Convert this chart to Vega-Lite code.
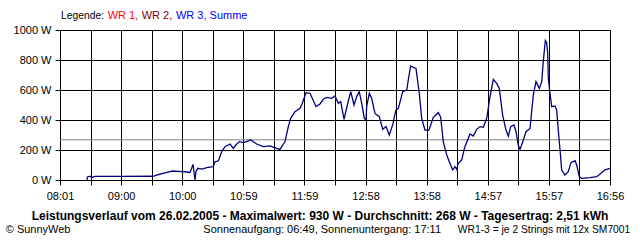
{
  "$schema": "https://vega.github.io/schema/vega-lite/v6.json",
  "autosize": "none",
  "width": 550,
  "height": 150,
  "padding": {"left": 60, "top": 30, "right": 30, "bottom": 60},
  "background": "white",
  "config": {
    "view": {"stroke": null},
    "font": "Liberation Sans",
    "axis": {
      "grid": true, "gridColor": "#000000", "gridOpacity": 1, "gridWidth": 1,
      "tickColor": "#000000", "tickWidth": 1, "domain": false,
      "labelFont": "Liberation Sans", "labelFontSize": 11, "labelColor": "#000000",
      "title": null
    }
  },
  "datasets": {
    "summe": [
      {"t": 507.3, "w": 0}, {"t": 507.7, "w": 20}, {"t": 510.2, "w": 25}, {"t": 512.1, "w": 17},
      {"t": 515.0, "w": 24}, {"t": 539.4, "w": 24}, {"t": 571.5, "w": 25}, {"t": 576.3, "w": 35},
      {"t": 581.2, "w": 44}, {"t": 586.1, "w": 52}, {"t": 590.9, "w": 60}, {"t": 595.8, "w": 58},
      {"t": 602.6, "w": 55}, {"t": 607.5, "w": 50}, {"t": 610.4, "w": 104}, {"t": 611.3, "w": 55},
      {"t": 612.3, "w": 0}, {"t": 613.3, "w": 60}, {"t": 615.2, "w": 78}, {"t": 619.1, "w": 72},
      {"t": 623.7, "w": 82}, {"t": 630.1, "w": 89}, {"t": 631.8, "w": 122}, {"t": 635.0, "w": 127},
      {"t": 636.6, "w": 156}, {"t": 638.3, "w": 189}, {"t": 641.5, "w": 222}, {"t": 646.4, "w": 240},
      {"t": 649.6, "w": 211}, {"t": 652.2, "w": 235}, {"t": 655.4, "w": 256}, {"t": 659.3, "w": 249},
      {"t": 662.9, "w": 258}, {"t": 666.5, "w": 267}, {"t": 672.3, "w": 240}, {"t": 678.8, "w": 222},
      {"t": 685.3, "w": 227}, {"t": 691.8, "w": 211}, {"t": 695.0, "w": 204}, {"t": 699.9, "w": 256},
      {"t": 703.1, "w": 356}, {"t": 705.4, "w": 411}, {"t": 709.6, "w": 456}, {"t": 714.5, "w": 478},
      {"t": 716.1, "w": 500}, {"t": 720.3, "w": 582}, {"t": 724.2, "w": 578}, {"t": 726.8, "w": 538},
      {"t": 730.0, "w": 489}, {"t": 733.9, "w": 507}, {"t": 737.1, "w": 538}, {"t": 740.4, "w": 551},
      {"t": 745.3, "w": 544}, {"t": 748.5, "w": 560}, {"t": 751.7, "w": 511}, {"t": 754.0, "w": 522},
      {"t": 757.3, "w": 404}, {"t": 760.5, "w": 500}, {"t": 763.8, "w": 589}, {"t": 767.0, "w": 500},
      {"t": 769.6, "w": 556}, {"t": 772.1, "w": 589}, {"t": 774.5, "w": 511}, {"t": 777.0, "w": 411},
      {"t": 778.7, "w": 400}, {"t": 779.3, "w": 489}, {"t": 781.9, "w": 578}, {"t": 784.2, "w": 544},
      {"t": 787.4, "w": 444}, {"t": 791.6, "w": 422}, {"t": 794.9, "w": 338}, {"t": 798.1, "w": 356},
      {"t": 801.3, "w": 300}, {"t": 804.6, "w": 367}, {"t": 807.8, "w": 467}, {"t": 810.1, "w": 478},
      {"t": 814.4, "w": 589}, {"t": 818.3, "w": 600}, {"t": 819.8, "w": 667}, {"t": 822.1, "w": 760},
      {"t": 824.7, "w": 751}, {"t": 827.3, "w": 744}, {"t": 830.5, "w": 578}, {"t": 832.8, "w": 411},
      {"t": 836.0, "w": 333}, {"t": 839.9, "w": 333}, {"t": 844.1, "w": 418}, {"t": 849.0, "w": 449},
      {"t": 851.3, "w": 418}, {"t": 853.8, "w": 256}, {"t": 857.2, "w": 167}, {"t": 859.7, "w": 122},
      {"t": 863.0, "w": 67}, {"t": 865.2, "w": 89}, {"t": 866.9, "w": 71}, {"t": 868.4, "w": 111},
      {"t": 871.7, "w": 133}, {"t": 874.9, "w": 222}, {"t": 879.8, "w": 307}, {"t": 883.0, "w": 293},
      {"t": 886.3, "w": 338}, {"t": 889.6, "w": 356}, {"t": 892.8, "w": 351}, {"t": 896.1, "w": 411},
      {"t": 899.3, "w": 556}, {"t": 902.5, "w": 671}, {"t": 905.8, "w": 644}, {"t": 908.3, "w": 611},
      {"t": 911.6, "w": 433}, {"t": 914.8, "w": 333}, {"t": 917.1, "w": 293}, {"t": 919.4, "w": 356},
      {"t": 922.6, "w": 367}, {"t": 924.6, "w": 322}, {"t": 926.8, "w": 233}, {"t": 928.5, "w": 204},
      {"t": 931.7, "w": 267}, {"t": 934.3, "w": 322}, {"t": 938.2, "w": 344}, {"t": 941.4, "w": 567},
      {"t": 944.0, "w": 656}, {"t": 947.2, "w": 611}, {"t": 949.6, "w": 656}, {"t": 951.1, "w": 789},
      {"t": 953.1, "w": 930}, {"t": 954.4, "w": 916}, {"t": 955.4, "w": 845}, {"t": 956.0, "w": 678},
      {"t": 957.6, "w": 578}, {"t": 959.3, "w": 489}, {"t": 962.5, "w": 493}, {"t": 964.1, "w": 467},
      {"t": 965.7, "w": 333}, {"t": 967.4, "w": 200}, {"t": 969.0, "w": 67}, {"t": 972.2, "w": 33},
      {"t": 975.4, "w": 56}, {"t": 978.1, "w": 116}, {"t": 982.0, "w": 129}, {"t": 983.6, "w": 100},
      {"t": 986.1, "w": 22}, {"t": 988.5, "w": 11}, {"t": 996.6, "w": 16}, {"t": 1003.1, "w": 22},
      {"t": 1007.9, "w": 49}, {"t": 1011.1, "w": 67}, {"t": 1016.0, "w": 78}
    ],
    "notes": [
      {"text": "Legende:", "series": "Legende", "size": "klein", "t": 482, "w": 1093},
      {"text": "WR 1,", "series": "WR 1", "size": "normal", "t": 527.4, "w": 1093},
      {"text": "WR 2,", "series": "WR 2", "size": "normal", "t": 560.5, "w": 1093},
      {"text": "WR 3, Summe", "series": "WR 3", "size": "normal", "t": 593.8, "w": 1093},
      {"text": "© SunnyWeb", "series": "Legende", "size": "normal", "t": 428.2, "w": -330},
      {"text": "Sonnenaufgang: 06:49, Sonnenuntergang: 17:11", "series": "Legende", "size": "normal", "t": 620.4, "w": -330},
      {"text": "WR1-3 = je 2 Strings mit 12x SM7001", "series": "Legende", "size": "klein", "t": 867.9, "w": -330}
    ],
    "headline": [
      {"text": "Leistungsverlauf vom 26.02.2005 - Maximalwert: 930 W - Durchschnitt: 268 W - Tagesertrag: 2,51 kWh", "t": 733.9, "w": -242}
    ],
    "mittel": [{"avg": 268}]
  },
  "encoding": {
    "x": {
      "field": "t", "type": "quantitative",
      "scale": {"domain": [481, 1016], "nice": false, "zero": false},
      "axis": {
        "values": [481, 510.7222, 540.4444, 570.1667, 599.8889, 629.6111, 659.3333, 689.0556, 718.7778, 748.5, 778.2222, 807.9444, 837.6667, 867.3889, 897.1111, 926.8333, 956.5556, 986.2778, 1016],
        "tickSize": 5, "labelPadding": 5,
        "labelExpr": "(round((datum.value-481)/29.7222) % 2 == 1) ? '' : timeFormat(datetime(2005,1,26,0,round(datum.value)),'%H:%M')",
        "labelOverlap": false, "labelFlush": false
      }
    },
    "y": {
      "field": "w", "type": "quantitative",
      "scale": {"domain": [0, 1000], "nice": false},
      "axis": {
        "values": [0, 200, 400, 600, 800, 1000],
        "tickSize": 5, "labelPadding": 4,
        "labelOverlap": false, "labelFlush": false,
        "labelExpr": "datum.value + ' W'"
      }
    }
  },
  "layer": [
    {
      "data": {"name": "mittel"},
      "mark": {"type": "rule", "color": "#808080", "strokeWidth": 1},
      "encoding": {
        "x": null,
        "y": {"field": "avg", "type": "quantitative"}
      }
    },
    {
      "data": {"name": "summe"},
      "mark": {"type": "line", "color": "#000080", "strokeWidth": 1.3}
    },
    {
      "data": {"name": "notes"},
      "mark": {"type": "text", "align": "left", "baseline": "middle", "font": "Liberation Sans"},
      "encoding": {
        "text": {"field": "text"},
        "size": {
          "field": "size", "type": "nominal",
          "scale": {"domain": ["klein", "normal"], "range": [10.3, 11]},
          "legend": null
        },
        "color": {
          "field": "series", "type": "nominal",
          "scale": {"domain": ["Legende", "WR 1", "WR 2", "WR 3"], "range": ["#000000", "#ff0000", "#800000", "#0000ff"]},
          "legend": null
        }
      }
    },
    {
      "data": {"name": "headline"},
      "mark": {"type": "text", "align": "center", "baseline": "middle", "fontSize": 12, "fontWeight": "bold", "font": "Liberation Sans", "color": "#000000"},
      "encoding": {
        "text": {"field": "text"}
      }
    }
  ]
}
